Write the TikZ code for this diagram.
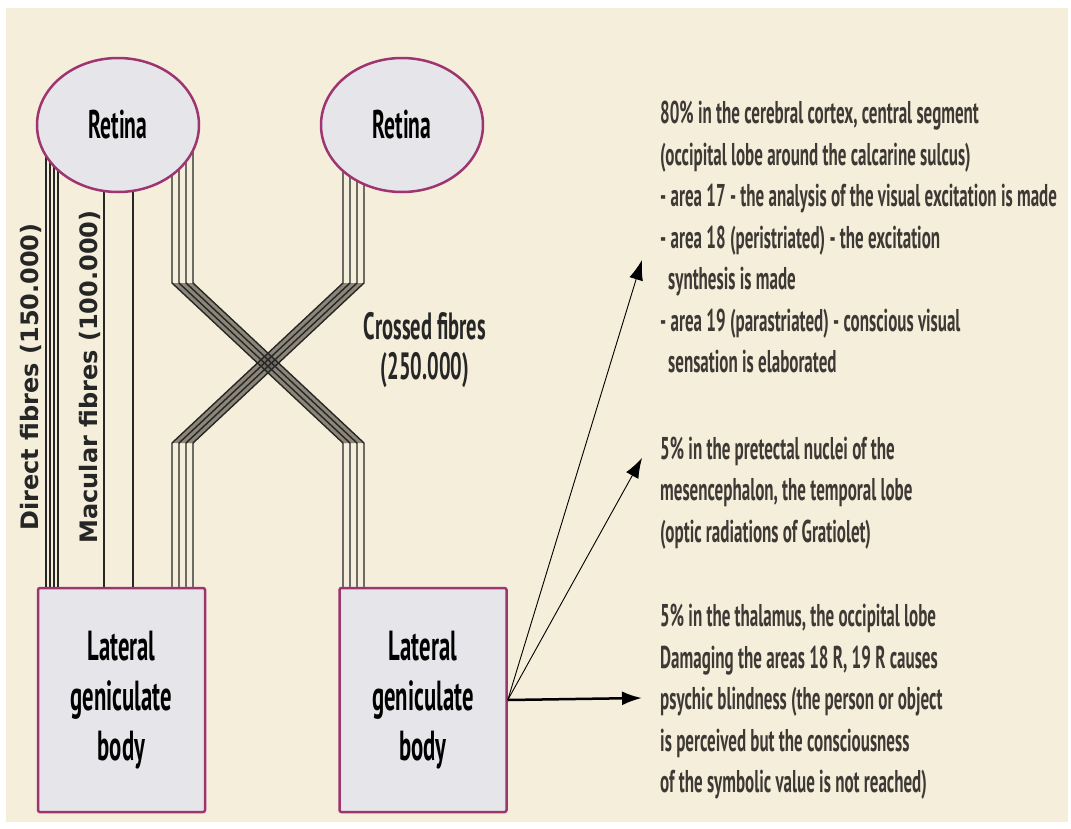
\documentclass[tikz,border=0pt]{standalone}
\usepackage{fontspec}
\usetikzlibrary{shapes.geometric,arrows.meta,calc}
\newfontfamily\narrowfont{PT Sans}[FakeStretch=0.54]
\newfontfamily\labelfont{DejaVu Sans}
\definecolor{paper}{HTML}{F4EEDB}
\definecolor{rim}{HTML}{9E3470}
\definecolor{cellfill}{HTML}{E6E6EA}
\definecolor{ink}{HTML}{3E3934}
\definecolor{band}{HTML}{6A6458}
\pgfdeclarelayer{paperlayer}
\pgfdeclarelayer{fibrelayer}
\pgfsetlayers{paperlayer,fibrelayer,main}
\begin{document}
\begin{tikzpicture}[x=1pt,y=-1pt,
	retina/.style={ellipse,draw=rim,line width=2.5pt,fill=cellfill,minimum width=162pt,minimum height=134pt,inner sep=0pt,font=\narrowfont\bfseries\fontsize{40}{40}\selectfont},
	body/.style={rectangle,rounded corners=2pt,draw=rim,line width=2.5pt,fill=cellfill,minimum width=167pt,minimum height=224pt,align=center,font=\narrowfont\bfseries\fontsize{42}{50}\selectfont},
	fibre/.style={line width=1.4pt,black!85},
	note/.style={align=left,anchor=west,inner sep=0pt,text=ink,font=\narrowfont\bfseries\fontsize{31.5}{41.5}\selectfont},
	side/.style={rotate=90,inner sep=0pt,text=black!85,font=\labelfont\bfseries\fontsize{24}{24}\selectfont},
	tip/.style={-{Latex[length=20pt,width=14pt]}}]
	\useasboundingbox (0,0) rectangle (1071,828);
	\begin{pgfonlayer}{paperlayer}
		\fill[white] (0,0) rectangle (1071,828);
		\fill[paper] (6,8) rectangle (1068,822);
	\end{pgfonlayer}
	
	\node [retina] (ret-l) at (118,125) {Retina};
	\node [retina] (ret-r) at (402,125) {Retina};
	\node [body] (lgb-l) at (121.5,700) {Lateral\\geniculate\\body};
	\node [body] (lgb-r) at (423,700) {Lateral\\geniculate\\body};
	\coordinate (knee-t) at (0,283);
	\coordinate (knee-b) at (0,443);
	
	\begin{pgfonlayer}{fibrelayer}
		\fill[band,opacity=0.75] (172,283) -- (193,283) -- (364,443) -- (343,443) -- cycle;
		\fill[band,opacity=0.75] (343,283) -- (364,283) -- (193,443) -- (172,443) -- cycle;
		\foreach \dx in {-72,-68,-64,-60,-14,15}
			\draw[fibre] ($(ret-l.center)+(\dx,0)$) coordinate (s) -- (s |- lgb-l.north);
		\foreach \dx in {54,61,68,75}
			\draw[fibre] ($(ret-l.center)+(\dx,0)$) coordinate (s) -- (s |- knee-t) -- ++(171,160) coordinate (t) -- (t |- lgb-r.north);
		\foreach \dx in {-59,-52,-45,-38}
			\draw[fibre] ($(ret-r.center)+(\dx,0)$) coordinate (s) -- (s |- knee-t) -- ++(-171,160) coordinate (t) -- (t |- lgb-l.north);
	\end{pgfonlayer}
	
	\node [side] (lab-d) at (31,377) {Direct fibres (150.000)};
	\node [side] (lab-m) at (90,377) {Macular fibres (100.000)};
	\node [align=center,text=black!85,font=\narrowfont\bfseries\fontsize{38}{40}\selectfont] (cross) at (425,350) {Crossed fibres\\(250.000)};
	
	\node [note] (txt-a) at (660,237) {80\% in the cerebral cortex, central segment\\(occipital lobe around the calcarine sulcus)\\- area 17 - the analysis of the visual excitation is made\\- area 18 (peristriated) - the excitation\\\hspace*{8pt}synthesis is made\\- area 19 (parastriated) - conscious visual\\\hspace*{8pt}sensation is elaborated};
	\node [note] (txt-b) at (660,493) {5\% in the pretectal nuclei of the\\mesencephalon, the temporal lobe\\(optic radiations of Gratiolet)};
	\node [note] (txt-c) at (660,702) {5\% in the thalamus, the occipital lobe\\Damaging the areas 18 R, 19 R causes\\psychic blindness (the person or object\\is perceived but the consciousness\\of the symbolic value is not reached)};
	
	\coordinate (tip-a) at (642,260);
	\coordinate (tip-b) at (642,458);
	\coordinate (tip-c) at (642,698);
	\draw[tip,line width=0.9pt] (lgb-r.east) -- (tip-a);
	\draw[tip,line width=0.9pt] (lgb-r.east) -- (tip-b);
	\draw[tip,line width=2.5pt] (lgb-r.east) -- (tip-c);
\end{tikzpicture}
\end{document}
